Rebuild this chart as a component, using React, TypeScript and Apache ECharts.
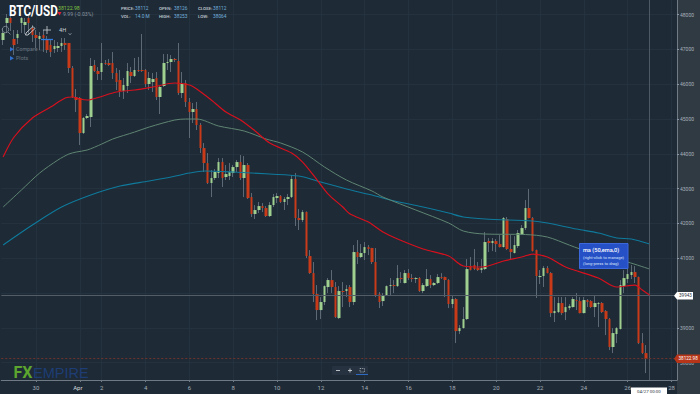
import React, { useEffect, useRef } from "react";
import * as echarts from "echarts";

// [open, close, low, high] of every 4H candle, first one on 28 Mar 12:00
const candles: number[][] = [
  [47272,47474,47129,47617],[47761,47905,47474,48020],[47905,47761,47531,47962],[47301,47129,46841,47560],
  [47330,47445,47157,47560],[47761,47905,47474,47933],[47704,47790,47445,47905],[47905,47761,47445,47962],
  [47617,47416,47215,47704],[47416,47330,47042,47560],[47301,47387,46985,47502],[47416,47330,46928,47560],
  [47272,46985,46899,47387],[47129,46928,46784,47301],[47014,47100,46899,47272],[47042,47100,46928,47215],
  [47100,47186,46928,47330],[47186,47129,46985,47330],[47186,46468,46324,47186],[46468,45634,45606,46525],
  [45634,45548,45203,45864],[45606,44600,44255,45634],[44600,45031,44571,45059],[45031,45088,45002,45146],
  [45059,46525,44772,46755],[46554,46381,46353,46698],[46381,46295,46123,46496],[46353,46611,46123,47186],
  [46611,46583,46554,46698],[46611,46554,46525,46726],[46611,46324,46151,46928],[46324,46065,45835,46468],
  [46123,45807,45634,46410],[45807,45979,45577,46180],[45950,46381,45749,46611],[46353,46238,46037,46496],
  [46238,46410,46209,46755],[46410,46381,46353,46784],[46410,46381,46353,47445],[46410,46008,45922,46439],
  [46008,46180,45835,46353],[46065,46151,45778,46324],[46180,45634,45548,46353],[45634,45922,45146,45950],
  [45950,46611,45922,46870],[46611,46640,46410,46870],[46640,46726,46353,46841],[46726,46698,46640,46755],
  [46669,45749,45692,47186],[45749,46008,45606,46353],[46037,45491,45347,46123],[45491,45203,44456,45606],
  [45203,45289,44887,45462],[45289,44830,44686,45491],[44830,44168,44025,44887],[44168,43737,43479,44312],
  [43737,43163,43134,44025],[43163,43306,42760,43536],[43306,43479,43249,43565],[43450,43766,43306,43881],
  [43766,43306,43048,43881],[43335,43421,43249,43680],[43364,43479,43249,43737],[43450,43622,43335,43680],
  [43622,43766,43479,43824],[43766,43306,43249,43967],[43306,43680,42760,43939],[43680,42731,42703,43737],
  [42760,42272,42186,42875],[42272,42387,42128,42530],[42387,42501,42300,42617],[42501,42444,42329,42588],
  [42444,42214,42186,42501],[42214,42530,42186,42617],[42530,42760,42473,42846],[42731,42789,42588,42875],
  [42789,42617,42588,42818],[42617,42703,42387,42760],[42703,42760,42530,42846],[42760,43278,42731,43393],
  [43278,42157,41927,43450],[42157,42099,41812,42415],[42099,42329,42042,42387],[42329,41065,41007,42350],
  [41065,40576,40550,41237],[40576,39973,39743,40892],[39973,39513,39225,40231],[39513,39743,39254,39886],
  [39743,40202,39656,40225],[40174,40375,40001,40432],[40375,40174,40001,40662],[40174,39311,39283,40317],
  [39283,40059,39254,40202],[40059,40030,39599,40317],[40059,40116,39886,40231],[40174,39743,39599,40231],
  [39743,41180,39656,41381],[41180,41036,40835,41524],[41036,41151,41007,41409],[41151,41323,40950,41467],
  [41323,41266,41093,41381],[41295,40892,40835,41300],[40892,39944,39886,41295],[39973,39743,39570,40030],
  [39771,39944,39628,40001],[39944,40202,39935,40220],[40202,40231,39944,40432],[40231,40202,40001,40375],
  [40202,40432,40174,40806],[40432,40404,40289,40605],[40289,40576,40275,40662],[40576,40432,40375,40691],
  [40432,40404,40317,40547],[40404,40432,40289,40461],[40432,40059,40030,40461],[40059,40231,40001,40289],
  [40202,40404,40174,40691],[40404,40231,40145,40519],[40231,40289,40202,40317],[40289,40461,40260,40547],
  [40461,40432,40404,40576],[40461,40375,39886,40475],[40375,39685,39570,40404],[39685,39829,39570,39944],
  [39829,38909,38564,39858],[38909,38995,38823,39081],[38995,39254,38981,39599],[39254,40691,39225,40978],
  [40777,40662,40650,41036],[40806,40691,40662,41266],[40720,40662,40634,40892],[40662,40720,40576,40978],
  [40691,41467,40662,41754],[41496,41438,41180,41582],[41438,41496,41208,41582],[41496,41409,41180,41553],
  [41409,41323,41310,41668],[41323,42157,41310,42186],[42128,41266,41237,42186],[41266,41180,40950,41668],
  [41151,41381,41140,41639],[41352,41726,41295,41812],[41697,41869,41668,41955],[41869,42444,41812,42674],
  [42444,42157,42145,42990],[42157,41208,41195,42186],[41237,40490,39858,41250],[40461,40490,40260,40662],
  [40490,40720,40174,40777],[40720,40576,40565,40777],[40576,39426,39311,40605],[39426,39484,39168,39886],
  [39455,39714,39426,39886],[39714,39426,39369,39886],[39455,39599,39225,39886],[39570,39628,39513,39685],
  [39599,39829,39585,39886],[39800,39771,39513,40001],[39771,39426,39415,39886],[39426,39800,39415,39886],
  [39800,39743,39599,39829],[39771,39599,39570,39800],[39599,39714,39311,39944],[39685,39714,39024,39743],
  [39714,39455,39426,39743],[39484,39254,38794,39513],[39254,38450,38363,39283],[38450,38852,38277,38995],
  [38823,38995,38564,39024],[38967,40231,38955,40375],[40202,40432,40001,40662],[40404,40547,40289,40720],
  [40519,40605,40404,40806],[40605,40461,40289,40777],[40461,38564,38535,40475],[38564,38277,38248,38852],
  [38277,38104,37702,38507],[38126,38122.98,38064,38253],
];

// moving averages: [candle index, value]
const emaRed: number[][] = [
  [0,43910],[3,44485],[8,45031],[13,45347],[17,45606],[19,45634],[21,45577],[23,45548],[26,45620],
  [31,45778],[36,45835],[41,45922],[47,46037],[51,45979],[53,45864],[57,45548],[61,45203],[65,44973],
  [69,44657],[73,44312],[79,44025],[82,43766],[86,43249],[89,42846],[93,42473],[95,42272],[100,42042],[104,41754],
  [108,41553],[115,41266],[122,41065],[126,40777],[131,40749],[137,40921],[142,41036],[145,41122],[149,41036],
  [154,40749],[163,40432],[168,40174],[173,40231],[175,40087],[177,39944],
];
const emaGray: number[][] = [
  [0,42473],[5,42961],[10,43450],[15,43824],[18,43996],[20,44053],[23,44111],[27,44283],[30,44427],[36,44628],
  [40,44772],[47,44973],[50,45002],[53,45002],[59,44801],[66,44657],[72,44427],[76,44312],[82,44053],[88,43622],
  [94,43249],[101,42933],[104,42760],[113,42387],[122,42013],[126,41783],[132,41697],[143,41683],[149,41611],
  [155,41381],[158,41266],[171,40892],[177,40691],
];
const emaTeal: number[][] = [
  [0,41381],[8,41955],[16,42473],[24,42818],[32,43076],[40,43220],[46,43335],[51,43450],[55,43508],[63,43479],
  [73,43421],[81,43364],[86,43220],[94,42990],[101,42818],[106,42674],[115,42473],[122,42300],[126,42186],
  [132,42128],[145,42070],[149,42013],[157,41840],[163,41726],[168,41582],[172,41553],[177,41409],
];

const slotCount = 185;
const categories: string[] = Array.from({ length: slotCount }, (_, i) =>
  new Date(Date.UTC(2022, 2, 28, 12 + i * 4)).toISOString()
);
const tickIndexes = [9, 21, 27, 39, 51, 63, 75, 87, 99, 111, 123, 135, 147, 159, 171, 183];
const tickLabels = ["30", "Apr", "2", "4", "6", "8", "10", "12", "14", "16", "18", "20", "22", "24", "26", "28"];
const priceTicks = [38000, 39000, 40000, 41000, 42000, 43000, 44000, 45000, 46000, 47000, 48000];
const priceLabels = [38000, 39000, 41000, 42000, 43000, 44000, 45000, 46000, 47000, 48000];
const crosshairPrice = 39943;
const lastPrice = 38122.98;
const crosshairIndex = 177;

const BG = "#1e2a36";
const UP = "#9fd08f";
const DOWN = "#c93a19";
const WICK = "#5d6975";
const GRID = "#243240";

const isTick = (i: number) => tickIndexes.includes(i);
const FONT = "Roboto, 'Noto Sans', sans-serif";

const txt = (x: number, y: number, text: string, fill: string, fontSize: number, extra: any = {}) => ({
  type: "text",
  x,
  y,
  silent: true,
  z: 50,
  style: { text, fill, fontSize, fontFamily: FONT, textVerticalAlign: "middle", verticalAlign: "middle", ...extra },
});
const ln = (x1: number, y1: number, x2: number, y2: number, stroke: string, lineWidth = 1) => ({
  type: "line",
  silent: true,
  z: 50,
  shape: { x1, y1, x2, y2 },
  style: { stroke, lineWidth },
});

function buildGraphic() {
  const labelC = "#c3cbd3";
  const valueC = "#74afdc";
  const infoFont = { fontWeight: 500 };
  return [
    { type: "rect", silent: true, z: -10, shape: { x: 677, y: 0, width: 23, height: 394 }, style: { fill: "#2f3a43" } },
    // header
    { ...txt(9, 11, "BTC/USD", "#ffffff", 15, { fontFamily: "Roboto, sans-serif", fontWeight: "bold" }), scaleX: 0.78 },
    txt(58, 7.5, "38122.98", "#7fc241", 5.2),
    { type: "polygon", silent: true, z: 50, shape: { points: [[57.5, 12], [61.5, 12], [59.5, 15.5]] }, style: { fill: "#e0203a" } },
    txt(63, 13.5, "9.99 (-0.03%)", "#8b96a0", 5.2),
    txt(121, 8.5, "PRICE:", labelC, 4.4, infoFont), txt(135, 8.5, "38112", valueC, 4.8),
    txt(159, 8.5, "OPEN:", labelC, 4.4, infoFont), txt(174, 8.5, "38126", valueC, 4.8),
    txt(198, 8.5, "CLOSE:", labelC, 4.4, infoFont), txt(213, 8.5, "38112", valueC, 4.8),
    txt(121, 16, "VOL:", labelC, 4.4, infoFont), txt(135, 16, "14.0 M", valueC, 4.8),
    txt(159, 16, "HIGH:", labelC, 4.4, infoFont), txt(174, 16, "38253", valueC, 4.8),
    txt(198, 16, "LOW:", labelC, 4.4, infoFont), txt(213, 16, "38064", valueC, 4.8),
    // toolbar
    { type: "circle", silent: true, z: 50, shape: { cx: 5.5, cy: 29.5, r: 3.2 }, style: { stroke: "#8b96a0", fill: "none", lineWidth: 0.8 } },
    ln(8, 32, 10.5, 34.5, "#8b96a0", 0.8),
    { type: "polygon", silent: true, z: 50, shape: { points: [[26, 33], [33, 26.5], [35, 28.5], [28, 35], [25.5, 35]] }, style: { stroke: "#cdd3d8", fill: "none", lineWidth: 0.9 } },
    ln(47, 26, 47, 34, "#cdd3d8", 0.8), ln(43, 30, 51, 30, "#cdd3d8", 0.8),
    txt(59, 30, "4H", "#cdd3d8", 5.6),
    { type: "polyline", silent: true, z: 50, shape: { points: [[68.5, 33], [70, 35], [71.5, 33]] }, style: { stroke: "#8b96a0", fill: "none", lineWidth: 0.7 } },
    ln(41, 39.5, 53, 39.5, "#2f7be0", 1.3),
    { type: "polygon", silent: true, z: 50, shape: { points: [[10, 47], [10, 51.5], [14, 49.2]] }, style: { fill: "#2f6fd0" } },
    txt(16, 49.3, "Compare ...", "#6b7680", 5.3),
    { type: "polygon", silent: true, z: 50, shape: { points: [[10, 56], [10, 60.5], [14, 58.2]] }, style: { fill: "#2f6fd0" } },
    txt(16, 58.3, "Plots", "#6b7680", 5.3),
    // logo
    txt(13.5, 372.5, "FX", "#5ca52e", 16, { fontWeight: "bold" }),
    txt(33, 372.5, "EMPIRE", "#1d3d74", 14.5, { fontFamily: "'Liberation Sans', sans-serif" }),
    // zoom control
    { type: "rect", silent: true, z: 49, shape: { x: 332, y: 366, width: 36, height: 9, r: 1 }, style: { fill: "#263240" } },
    ln(336, 370.5, 340, 370.5, "#c8ced4", 0.9),
    ln(348, 370.5, 352, 370.5, "#c8ced4", 0.9), ln(350, 368.5, 350, 372.5, "#c8ced4", 0.9),
    { type: "rect", silent: true, z: 50, shape: { x: 360, y: 368.5, width: 4.5, height: 3.5 }, style: { stroke: "#c8ced4", fill: "none", lineWidth: 0.7, lineDash: [1.2, 1] } },
    ln(356, 374.5, 368, 374.5, "#2f6fd0", 0.9),
    // EMA note
    { type: "rect", silent: true, z: 60, shape: { x: 579.5, y: 243.5, width: 48.5, height: 25 }, style: { fill: "#2650c6", stroke: "#3c68dc", lineWidth: 1 } },
    { ...txt(583, 250, "ma (50,ema,0)", "#ffffff", 5.6, { fontWeight: 500 }), z: 61 },
    { ...txt(583, 257.5, "(right-click to manage)", "#dbe4fb", 4.1), z: 61 },
    { ...txt(583, 263, "(long-press to drag)", "#dbe4fb", 4.1), z: 61 },
    // crosshair tags
    { type: "polygon", silent: true, z: 60, shape: { points: [[674, 295.7], [677, 292], [693, 292], [693, 299.5], [677, 299.5]] }, style: { fill: "#ffffff" } },
    { ...txt(679, 295.8, "39943", "#28323c", 4.6), z: 61 },
    { type: "polygon", silent: true, z: 60, shape: { points: [[674, 358.7], [677, 354.5], [700, 354.5], [700, 363], [677, 363]] }, style: { fill: "#b63518" } },
    { ...txt(678.5, 358.8, "38122.98", "#ffffff", 4.6), z: 61 },
    { type: "rect", silent: true, z: 60, shape: { x: 631, y: 387.5, width: 36, height: 7 }, style: { fill: "#ffffff" } },
    { ...txt(637, 391, "04/27 00:00", "#2a343e", 4.4), z: 61 },
  ];
}

function buildOption() {
  const wickData = candles.map(([o, c, l, h]) => [o, c, l, h]);
  const bodyData = candles.map(([o, c]) => [o, c, Math.min(o, c), Math.max(o, c)]);
  const tickFn = (i: number) => isTick(i);
  return {
    animation: false,
    backgroundColor: BG,
    textStyle: { fontFamily: FONT },
    grid: { left: 1.3, top: 0, width: 675.7, height: 380, containLabel: false },
    xAxis: {
      type: "category",
      data: categories,
      boundaryGap: true,
      axisLine: { show: true, lineStyle: { color: "#6f7a84", width: 1 } },
      axisTick: { show: true, alignWithLabel: true, interval: tickFn, length: 2, lineStyle: { color: "#6f7a84" } },
      axisLabel: {
        interval: tickFn,
        margin: 4,
        fontSize: 6,
        fontFamily: FONT,
        color: "#a3adb6",
        formatter: (_: string, i: number) => {
          const label = tickLabels[tickIndexes.indexOf(i)];
          return label === "Apr" ? `{m|${label}}` : label;
        },
        rich: { m: { color: "#d5dade", fontSize: 6, fontFamily: FONT, padding: [0, 4, 0, 0] } },
      },
      splitLine: { show: true, alignWithLabel: true, interval: tickFn, lineStyle: { color: GRID, width: 1 } },
    },
    yAxis: {
      type: "value",
      position: "right",
      min: 37503,
      max: 48422,
      axisLine: { show: true, lineStyle: { color: "#6f7a84", width: 1 } },
      axisTick: { show: true, customValues: priceTicks, length: 2, lineStyle: { color: "#8b96a0" } },
      axisLabel: { customValues: priceLabels, margin: 3, fontSize: 5, fontFamily: FONT, color: "#a8b1b9", formatter: (v: number) => String(v) },
      splitLine: { show: true, lineStyle: { color: GRID, width: 1 } },
    },
    series: [
      {
        name: "BTC/USD wicks",
        type: "candlestick",
        data: wickData,
        barWidth: 1,
        z: 2,
        silent: true,
        itemStyle: { color: WICK, color0: WICK, borderColor: WICK, borderColor0: WICK, borderWidth: 1 },
      },
      {
        name: "BTC/USD",
        type: "candlestick",
        data: bodyData,
        barWidth: 3,
        z: 3,
        silent: true,
        itemStyle: { color: UP, color0: DOWN, borderColor: UP, borderColor0: DOWN, borderWidth: 0 },
      },
      { name: "ema teal", type: "line", data: emaTeal, smooth: 0.3, symbol: "none", z: 4, silent: true, lineStyle: { color: "#0f7a9c", width: 1.1 } },
      { name: "ema gray", type: "line", data: emaGray, smooth: 0.3, symbol: "none", z: 4, silent: true, lineStyle: { color: "#5f8572", width: 1 } },
      { name: "ma (50,ema,0)", type: "line", data: emaRed, smooth: 0.3, symbol: "none", z: 5, silent: true, lineStyle: { color: "#d9101d", width: 1.15 } },
      {
        name: "guides",
        type: "line",
        data: [],
        z: 6,
        silent: true,
        markLine: {
          silent: true,
          symbol: "none",
          animation: false,
          label: { show: false },
          data: [
            { yAxis: crosshairPrice, lineStyle: { color: "#525d67", type: "solid", width: 1 } },
            { xAxis: categories[crosshairIndex], lineStyle: { color: "#4e5963", type: "solid", width: 1 } },
            { yAxis: lastPrice, lineStyle: { color: "#6e322b", type: [2, 2], width: 1 } },
          ],
        },
      },
    ],
    graphic: buildGraphic(),
  };
}

export default function App() {
  const ref = useRef<HTMLDivElement>(null);
  useEffect(() => {
    document.body.style.margin = "0";
    document.body.style.background = BG;
    const chart = echarts.init(ref.current!, undefined, { renderer: "svg" });
    chart.setOption(buildOption() as any);
    return () => chart.dispose();
  }, []);
  return <div ref={ref} style={{ width: 700, height: 394 }} />;
}
